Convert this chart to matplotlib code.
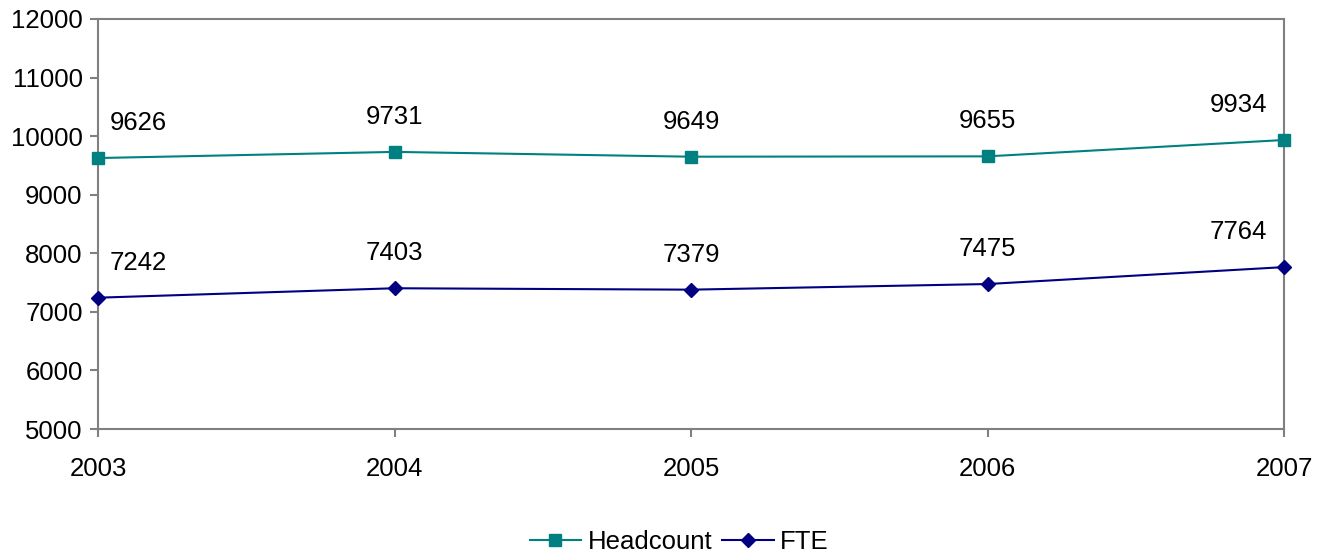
import matplotlib
matplotlib.use("Agg")
import matplotlib.pyplot as plt

years = ['2003', '2004', '2005', '2006', '2007']
headcount = [9626, 9731, 9649, 9655, 9934]
fte = [7242, 7403, 7379, 7475, 7764]

plt.rcParams['font.family'] = ['Liberation Sans', 'DejaVu Sans']

fig = plt.figure(figsize=(13.28, 5.57), dpi=100)
ax = fig.add_axes([0.0738, 0.2298, 0.8931, 0.7361])

x = list(range(len(years)))
ax.plot(x, headcount, color='#008080', marker='s', markersize=8.5, linewidth=1.5,
        label='Headcount', clip_on=False, zorder=3)
ax.plot(x, fte, color='#000080', marker='D', markersize=7, linewidth=1.5,
        label='FTE', clip_on=False, zorder=3)

# data labels above points, nudged inward at the ends
for series in (headcount, fte):
    for i, v in enumerate(series):
        dx = 0
        if i == 0:
            dx = 40
        elif i == len(series) - 1:
            dx = -46
        ax.annotate(str(v), (i, v), xytext=(dx, 35), textcoords='offset pixels',
                    ha='center', va='center', fontsize=18.5)

ax.set_xlim(0, len(years) - 1)
ax.set_ylim(5000, 12000)
ax.set_yticks(range(5000, 12001, 1000))
ax.set_xticks(x)
ax.set_xticklabels(years)
ax.tick_params(axis='both', labelsize=18.5, color='#808080', length=6, width=1.5)
ax.tick_params(axis='x', pad=14)
ax.tick_params(axis='y', pad=5)
for s in ax.spines.values():
    s.set_color('#808080')
    s.set_linewidth(1.5)

ax.legend(loc='center', bbox_to_anchor=(0.49, -0.275), ncol=2, frameon=False, fontsize=18.5,
          handlelength=2.0, handletextpad=0.25, columnspacing=0.4)

fig.savefig('out.png', dpi=100)
